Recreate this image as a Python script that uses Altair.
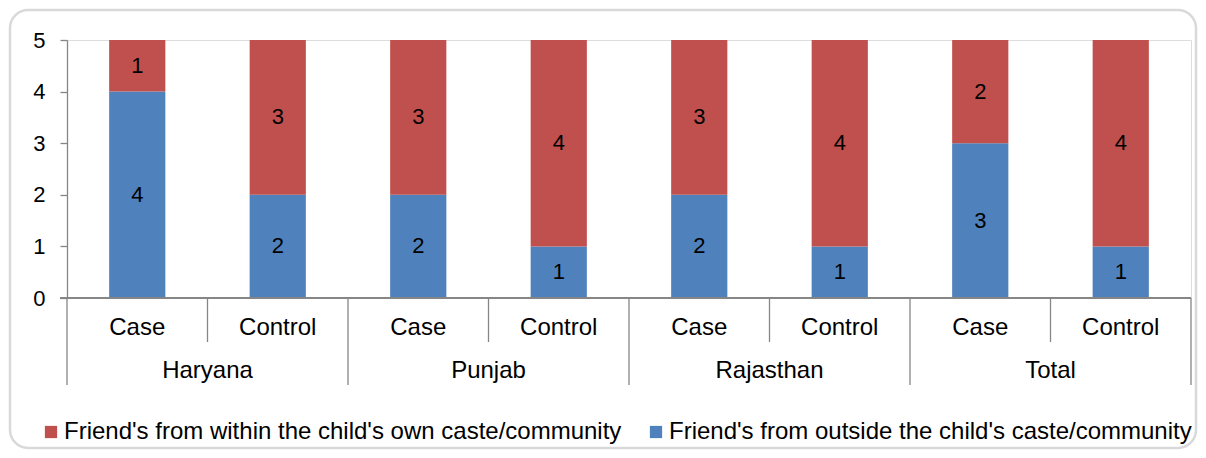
import altair as alt
import pandas as pd

states = ["Haryana", "Punjab", "Rajasthan", "Total"]
groups = ["Case", "Control"]
within = [1, 3, 3, 4, 3, 4, 2, 4]
outside = [4, 2, 2, 1, 2, 1, 3, 1]
series = ["Friend's from within the child's own caste/community",
          "Friend's from outside the child's caste/community"]
colors = ["#C0504D", "#4F81BD"]
yticks = [0, 1, 2, 3, 4, 5]

FONT = "Liberation Sans"
W, H = 1124, 258
PL, PT, PR, PB = 59, 32, 7, 152

rows = []
cats = []
for i in range(len(within)):
    st = states[i // 2]
    gr = groups[i % 2]
    cats.append({"idx": i, "pos": i + 0.5, "group": gr, "state": st})
    rows.append({"idx": i, "pos": i + 0.5, "series": series[1], "order": 0, "value": outside[i]})
    rows.append({"idx": i, "pos": i + 0.5, "series": series[0], "order": 1, "value": within[i]})
df = pd.DataFrame(rows)
cat_df = pd.DataFrame(cats)
state_df = pd.DataFrame({"state": states, "pos": [2 * j + 1 for j in range(len(states))]})
sep_df = pd.DataFrame({"b": list(range(len(within) + 1))})
sep_df["long"] = (sep_df["b"] % 2 == 0).astype(int)

xs = alt.Scale(domain=[0, len(within)], nice=False, zero=False)
ys = alt.Scale(domain=[0, 5], nice=False)

base = alt.Chart(df).transform_stack(
    stack="value", groupby=["idx"], as_=["y0", "y1"], sort=[alt.SortField("order")]
).transform_calculate(xl="datum.pos - 0.2", xr="datum.pos + 0.2", ym="(datum.y0 + datum.y1) / 2")

bars = base.mark_bar().encode(
    x=alt.X("xl:Q", scale=xs, axis=None),
    x2="xr:Q",
    y=alt.Y("y0:Q", scale=ys, title=None,
            axis=alt.Axis(values=yticks, grid=False, domainColor="#868686", tickColor="#868686",
                          tickSize=7, labelFontSize=22, labelFont=FONT, labelColor="#000000",
                          labelPadding=15, domainWidth=1.3, tickWidth=1.3)),
    y2="y1:Q",
    color=alt.Color("series:N", scale=alt.Scale(domain=series, range=colors),
                    legend=alt.Legend(orient="none", legendX=-28, legendY=380, direction="horizontal",
                                      title=None, symbolType="square", symbolSize=150, padding=0,
                                      symbolStrokeWidth=0, labelFontSize=24, labelFont=FONT,
                                      labelColor="#000000", labelLimit=900, columnPadding=22,
                                      labelOffset=1)),
)

bar_text = base.mark_text(fontSize=22, font=FONT, color="#000000").encode(
    x=alt.X("pos:Q", scale=xs), y=alt.Y("ym:Q", scale=ys), text="value:Q"
)

baseline = alt.Chart(sep_df).mark_rule(color="#868686", strokeWidth=1.3).encode(
    x=alt.value(-7), x2=alt.value(W), y=alt.value(H)
)

seps_long = alt.Chart(sep_df).transform_filter("datum.long == 1").mark_rule(
    color="#868686", strokeWidth=1.3).encode(
    x=alt.X("b:Q", scale=xs), y=alt.value(H), y2=alt.value(H + 87)
)
seps_short = alt.Chart(sep_df).transform_filter("datum.long == 0").mark_rule(
    color="#868686", strokeWidth=1.3).encode(
    x=alt.X("b:Q", scale=xs), y=alt.value(H), y2=alt.value(H + 44)
)

sub_text = alt.Chart(cat_df).mark_text(fontSize=24, font=FONT, color="#000000").encode(
    x=alt.X("pos:Q", scale=xs), y=alt.value(H + 30), text="group:N"
)
state_text = alt.Chart(state_df).mark_text(fontSize=24, font=FONT, color="#000000").encode(
    x=alt.X("pos:Q", scale=xs), y=alt.value(H + 73), text="state:N"
)

frame = alt.Chart(pd.DataFrame({"a": [0]})).mark_rect(
    fillOpacity=0, stroke="#d9d9d9", strokeWidth=2.5, cornerRadius=18
).encode(x=alt.value(-57), x2=alt.value(W + PR - 2), y=alt.value(-30), y2=alt.value(H + PB - 2))

chart = alt.layer(frame, bars, bar_text, baseline, seps_long, seps_short, sub_text, state_text).properties(
    width=W, height=H,
    autosize=alt.AutoSizeParams(type="none"),
    padding={"left": PL, "top": PT, "right": PR, "bottom": PB},
).configure_view(stroke=None).configure(font=FONT, background="#ffffff")

chart.save("out.html", embed_options={"renderer": "svg", "actions": False})
